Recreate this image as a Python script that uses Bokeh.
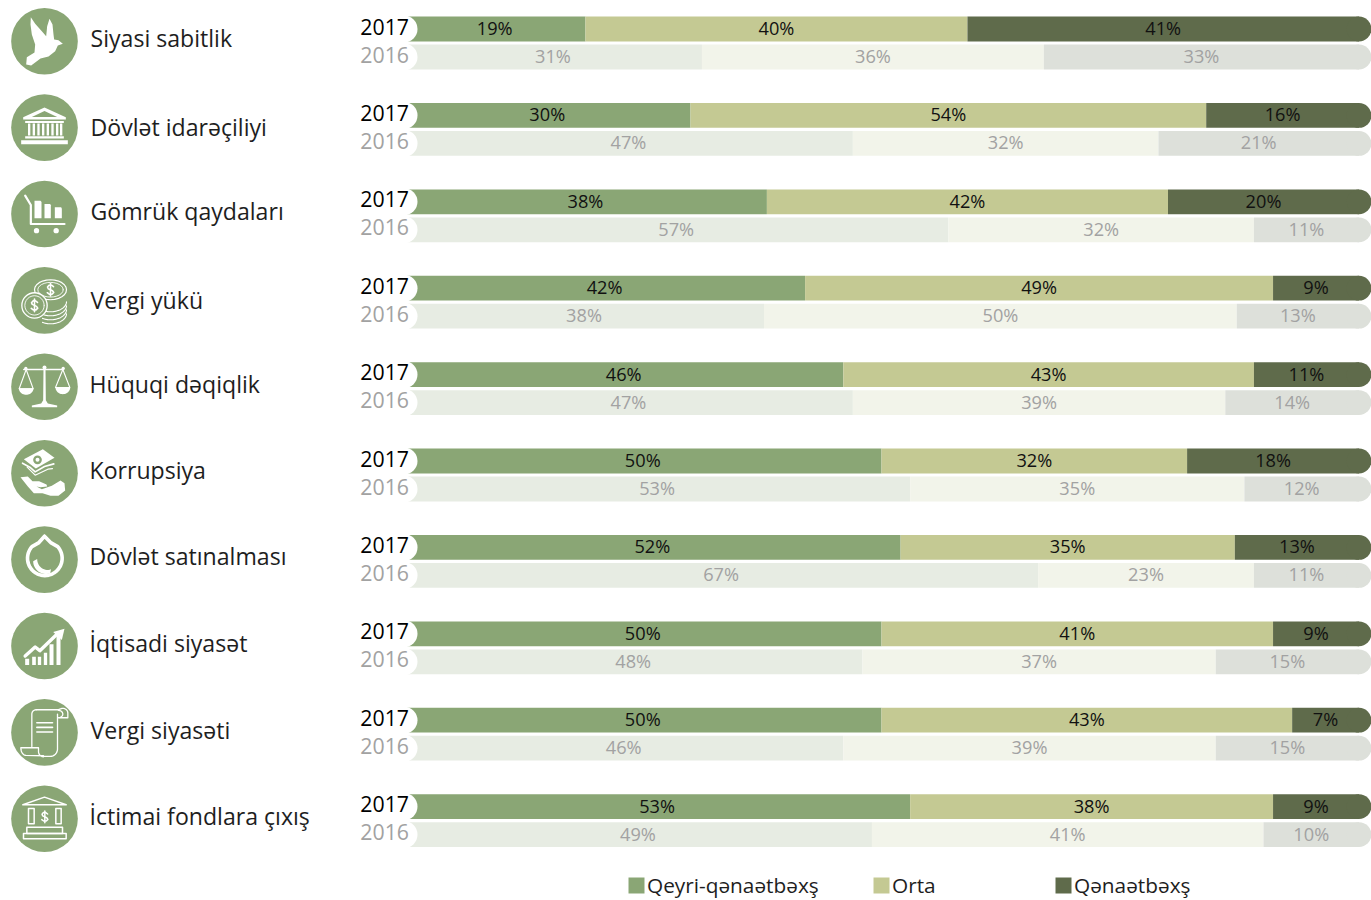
from bokeh.embed import file_html
from bokeh.resources import INLINE
from bokeh.plotting import figure
from bokeh.models import Range1d, ColumnDataSource, Legend, LegendItem
from bokeh.core.properties import value
import math

# ---------- data ----------
categories = ["Siyasi sabitlik", "Dövlət idarəçiliyi", "Gömrük qaydaları", "Vergi yükü",
              "Hüquqi dəqiqlik", "Korrupsiya", "Dövlət satınalması", "İqtisadi siyasət",
              "Vergi siyasəti", "İctimai fondlara çıxış"]
series_names = ["Qeyri-qənaətbəxş", "Orta", "Qənaətbəxş"]
years = ["2017", "2016"]

low_2017 = [19, 30, 38, 42, 46, 50, 52, 50, 50, 53]
mid_2017 = [40, 54, 42, 49, 43, 32, 35, 41, 43, 38]
high_2017 = [41, 16, 20, 9, 11, 18, 13, 9, 7, 9]

# bar lengths as measured from the bars
low_2016 = [31.2, 47, 57, 37.7, 47, 53, 66.4, 48, 46, 49]
mid_2016 = [35.8, 32, 32, 49.5, 39, 35, 22.6, 37, 39, 41]
high_2016 = [33, 21, 11, 12.8, 14, 12, 11, 15, 15, 10]

# printed labels
low_2016_lbl = [31, 47, 57, 38, 47, 53, 67, 48, 46, 49]
mid_2016_lbl = [36, 32, 32, 50, 39, 35, 23, 37, 39, 41]
high_2016_lbl = [33, 21, 11, 13, 14, 12, 11, 15, 15, 10]

colors_2017 = ["#8AA675", "#C4C993", "#5F6B4B"]
colors_2016 = ["#E7ECE3", "#F2F4EA", "#DDE0DA"]

# ---------- layout constants ----------
W, H = 1371, 900
PX_PER_PCT = 9.55
X0 = 403.5
ROW_TOP = 28.5
ROW_PITCH = 86.4
YEAR_STEP = 28.0 / ROW_PITCH
BAR_H = 24.8 / ROW_PITCH

FONT = value("Open Sans")

p = figure(width=W, height=H, output_backend="svg", toolbar_location=None,
           x_range=Range1d((0 - X0) / PX_PER_PCT, (W - X0) / PX_PER_PCT),
           y_range=Range1d((H - ROW_TOP) / ROW_PITCH, (0 - ROW_TOP) / ROW_PITCH),
           x_axis_location=None, y_axis_location=None, min_border=0,
           outline_line_color=None, background_fill_color="white", border_fill_color="white")
p.grid.visible = False
p.extra_x_ranges["px"] = Range1d(0, W)
p.extra_y_ranges["px"] = Range1d(H, 0)
PX = dict(x_range_name="px", y_range_name="px")

# ---------- bars ----------
legend_renderers = []
for yi, (year, rows, labels, cols, txt_col) in enumerate([
    ("2017", [low_2017, mid_2017, high_2017], [low_2017, mid_2017, high_2017], colors_2017, "#111111"),
    ("2016", [low_2016, mid_2016, high_2016], [low_2016_lbl, mid_2016_lbl, high_2016_lbl], colors_2016, "#A2A2A2"),
]):
    ys = [i + yi * YEAR_STEP for i in range(len(categories))]
    left = [0.0] * len(categories)
    for si, vals in enumerate(rows):
        right = [l + v for l, v in zip(left, vals)]
        if si == 2:
            right = [100.0] * len(categories)
        src = ColumnDataSource(dict(y=ys, left=left, right=right))
        r = p.hbar(y="y", left="left", right="right", height=BAR_H, source=src,
                   fill_color=cols[si], line_color=None)
        if yi == 0:
            legend_renderers.append(r)
        if si == 2:
            p.scatter(x=[100.0] * len(ys), y=ys, size=24.8, marker="circle",
                      fill_color=cols[si], line_color=None)
        left = right
    # white notch at the start of each bar
    p.scatter(x=[0.0] * len(ys), y=ys, size=27, marker="circle", fill_color="white", line_color=None)
    # percent labels
    for si in range(3):
        lft = [0.0] * len(ys)
        for k in range(si):
            lft = [a + b for a, b in zip(lft, rows[k])]
        rgt = [100.0] * len(ys) if si == 2 else [a + b for a, b in zip(lft, rows[si])]
        p.text(x=[(a + b) / 2 for a, b in zip(lft, rgt)], y=[v - 0.011 for v in ys],
               text=[f"{v}%" for v in labels[si]], text_font=FONT, text_font_size="18.2px",
               text_color=txt_col, text_align="center", text_baseline="middle")
    # year labels
    p.text(x=[0.0] * len(ys), y=[v - 0.028 for v in ys], text=[year] * len(ys), x_offset=5,
           text_font=FONT, text_font_size="21.3px",
           text_color="#000000" if yi == 0 else "#A2A2A2", text_align="right", text_baseline="middle")

# ---------- category labels ----------
label_x = [90, 90, 90, 90, 89, 89, 89, 89, 90, 89]
label_y = [37, 126, 210, 299, 383, 469, 555, 642, 729, 815]
p.text(x=label_x, y=label_y, text=categories, text_font=FONT, text_font_size="23.1px",
       text_color="#1E1E1E", text_align="left", text_baseline="middle", **PX)

# ---------- icons (drawn in 3x units relative to the disc centre) ----------
GREEN = colors_2017[0]
CX = 44.0
CY0 = 40.7
U = 1 / 3


def origin(i):
    return CX, CY0 + ROW_PITCH * i


def fill(i, pts, color="white"):
    ox, oy = origin(i)
    p.patch([ox + a * U for a, b in pts], [oy + b * U for a, b in pts], fill_color=color, line_color=None, **PX)


def stroke(i, pts, w=1.3, color="white"):
    ox, oy = origin(i)
    p.line([ox + a * U for a, b in pts], [oy + b * U for a, b in pts], line_color=color, line_width=w,
           line_join="round", line_cap="round", **PX)


def disc(i, a, b, r, color="white", line=None, w=1.3):
    ox, oy = origin(i)
    p.circle(x=[ox + a * U], y=[oy + b * U], radius=r * U, fill_color=color, line_color=line, line_width=w, **PX)


def arc(a, b, rx, ry, start, stop, n=24):
    return [(a + rx * math.cos(math.radians(start + (stop - start) * k / n)),
             b + ry * math.sin(math.radians(start + (stop - start) * k / n))) for k in range(n + 1)]


def box(a, b, c, d):
    return [(a, b), (c, b), (c, d), (a, d), (a, b)]


def dollar(i, a, b, s, w=1.2):
    stroke(i, [(a + s * x, b + s * y) for x, y in
               [(0.6, -0.6), (0.2, -0.9), (-0.3, -0.9), (-0.6, -0.55), (-0.45, -0.2), (0.4, 0.2),
                (0.65, 0.55), (0.3, 0.9), (-0.25, 0.9), (-0.65, 0.6)]], w)
    stroke(i, [(a, b - 1.25 * s), (a, b + 1.25 * s)], w)


for i in range(len(categories)):
    disc(i, 0, 0, 100, GREEN)

# 0 dove
fill(0, [(-41, -72), (-28, -52), (-8, -30), (5, -15), (8, -45), (15, -67), (24, -50), (27, -20), (29, -5), (42, -3),
         (55, 8), (40, 13), (32, 30), (12, 46), (-12, 52), (-25, 62), (-40, 73), (-55, 70), (-53, 48), (-30, 34),
         (-28, 10), (-38, -20), (-42, -50)])

# 1 bank
fill(1, [(0, -60), (64, -31), (64, -24), (-64, -24), (-64, -31)])
fill(1, [(0, -50), (-38, -32), (38, -32)], GREEN)
fill(1, [(-58, -20), (58, -20), (58, -14), (-58, -14)])
for cx_ in (-46, -32, -18, -4, 10, 24, 38, 50):
    fill(1, [(cx_ - 3.5, -12), (cx_ + 3.5, -12), (cx_ + 3.5, 24), (cx_ - 3.5, 24)])
fill(1, [(-58, 26), (58, 26), (58, 33), (-58, 33)])
fill(1, [(-70, 38), (70, 38), (70, 50), (-70, 50)])

# 2 cart
stroke(2, [(-58, -55), (-41, -27), (-41, 30), (60, 30)], 2.2)
fill(2, [(-30, -40), (-12, -40), (-9, -36), (-9, 13), (-30, 13)])
fill(2, [(0, -30), (17, -30), (19, -26), (19, 13), (0, 13)])
fill(2, [(31, -20), (50, -20), (52, -16), (52, 13), (31, 13)])
disc(2, -24, 50, 8)
disc(2, 35, 50, 8)

# 3 coins
for dy in (0, 12, 24, 36):
    stroke(3, [(a, b + 36 + dy) for a, b in arc(18, -32, 48, 30, 0, 120)], 1.1)
stroke(3, arc(18, -32, 48, 30, 0, 360), 1.2)
stroke(3, arc(18, -32, 38, 22, 0, 360), 0.9)
dollar(3, 18, -32, 15, 1.6)
disc(3, -30, 15, 38, GREEN, "white", 1.3)
stroke(3, arc(-30, 15, 29, 29, 0, 360), 0.9)
dollar(3, -30, 15, 15, 1.6)

# 4 scales
stroke(4, [(-62, -52), (56, -52)], 1.6)
fill(4, [(-3, -58), (3, -58), (4, 40), (10, 50), (38, 56), (38, 61), (-38, 61), (-38, 56), (-10, 50), (-4, 40)])
disc(4, 0, -58, 6)
disc(4, -56, -55, 5)
disc(4, 56, -55, 5)
stroke(4, [(-55, -52), (-76, 6), (-34, 6), (-55, -52)], 1.1)
stroke(4, [(55, -52), (33, 2), (76, 2), (55, -52)], 1.1)
fill(4, arc(-55, 4, 22, 20, 0, 180))
fill(4, arc(55, 2, 22, 20, 0, 180))

# 5 money and hand
fill(5, [(-62, -42), (-5, -72), (30, -46), (-26, -14)])
disc(5, -21, -40, 13, GREEN)
disc(5, -21, -40, 6)
stroke(5, [(-66, -30), (-44, -18), (-28, -4), (0, -20), (28, -28)], 1.6)
stroke(5, [(-52, -18), (-28, 6), (10, -12), (24, -14)], 1.2)
fill(5, [(-72, 12), (-50, 10), (-36, 24), (-16, 24), (6, 34), (8, 40), (-12, 42), (-24, 40), (-8, 48), (22, 38),
         (48, 22), (60, 30), (62, 52), (42, 68), (18, 68), (-6, 60), (-32, 60), (-50, 40)])

# 6 drop
stroke(6, [(0, -70), (-18, -50)] + arc(1, -4, 52, 52, 222, -42, 40) + [(20, -50), (0, -70)], 3.6)
fill(6, arc(4, 5, 38, 38, 180, 70, 14) + arc(9, -2, 31, 33, 70, 180, 14))

# 7 chart
for (a, c, top) in [(-58, -46, 38), (-37, -26, 32), (-20, -10, 32), (-2, 8, 20), (15, 27, -5), (36, 48, -30)]:
    fill(7, [(a, top), (c, top), (c, 57), (a, 57)])
stroke(7, [(-58, 30), (-28, 3), (-14, 14), (38, -36)], 3.4)
fill(7, [(26, -42), (60, -52), (52, -18)])

# 8 scroll
stroke(8, [(-25, -68), (42, -68)], 1.3)
stroke(8, [(42, -44), (70, -44)] + arc(55, -58, 15, 14, 0, -100, 10) + [(42, -68)] + arc(42, -55, 13, 11, -90, 70, 8), 1.3)
stroke(8, [(-25, -68)] + arc(-25, -55, 13, 13, -90, -180, 8) + [(-38, 42)], 1.3)
stroke(8, [(39, -55), (39, 52)] + arc(17, 50, 22, 22, 0, 90, 8) + [(-3, 72)] + arc(-3, 58, 15, 15, 90, 180, 6)
       + [(-18, 46), (-71, 46)] + arc(-56, 46, 15, 23, 180, 90, 8) + [(-3, 70)], 1.3)
for dy in (-29, -15, -1):
    stroke(8, [(-23, dy), (24, dy)], 1.6)

# 9 public funds bank
stroke(9, [(-65, -42), (0, -65), (65, -42), (-65, -42)], 1.5)
stroke(9, box(-48, -31, -31, 15), 1.5)
stroke(9, box(34, -31, 50, 15), 1.5)
dollar(9, 1, -6, 14, 1.5)
stroke(9, box(-53, 25, 54, 44), 1.5)
stroke(9, box(-63, 44, 65, 60), 1.5)

# ---------- legend ----------
legend_x = [626, 871, 1053]
for r, name, lx in zip(legend_renderers, series_names, legend_x):
    lg = Legend(items=[LegendItem(label=name, renderers=[r])], location=(lx, 1),
                glyph_width=20, glyph_height=20, label_standoff=1, padding=0, margin=0, spacing=0,
                border_line_color=None, background_fill_alpha=0,
                label_text_font="Open Sans", label_text_font_size="20.8px", label_text_color="#1E1E1E",
                label_height=24, label_text_line_height=1.2)
    p.add_layout(lg, "center")

open("out.html", "w").write(file_html(p, INLINE))
